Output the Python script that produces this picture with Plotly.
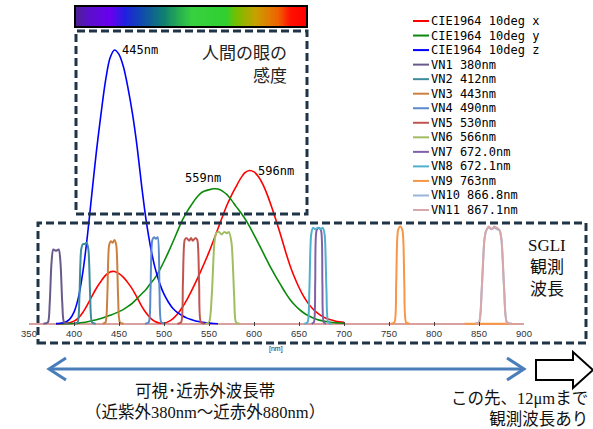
import plotly.graph_objects as go

# ---------------- data ----------------
wl = [380, 385, 390, 395, 400, 405, 410, 415, 420, 425, 430, 435, 440, 445, 450,
      455, 460, 465, 470, 475, 480, 485, 490, 495, 500, 505, 510, 515, 520, 525,
      530, 535, 540, 545, 550, 555, 560, 565, 570, 575, 580, 585, 590, 595, 600,
      605, 610, 615, 620, 625, 630, 635, 640, 645, 650, 655, 660, 665, 670, 675,
      680, 685, 690, 695, 700]
cie_x = [0.0002, 0.0007, 0.0024, 0.0072, 0.0191, 0.0434, 0.0847, 0.1406, 0.2045, 0.2647,
         0.3147, 0.3577, 0.3837, 0.3867, 0.3707, 0.3430, 0.3023, 0.2541, 0.1956, 0.1323,
         0.0805, 0.0411, 0.0162, 0.0051, 0.0038, 0.0154, 0.0375, 0.0714, 0.1177, 0.1730,
         0.2365, 0.3042, 0.3768, 0.4516, 0.5298, 0.6161, 0.7052, 0.7938, 0.8787, 0.9512,
         1.0142, 1.0743, 1.1185, 1.1343, 1.1240, 1.0891, 1.0305, 0.9507, 0.8563, 0.7549,
         0.6475, 0.5351, 0.4316, 0.3437, 0.2683, 0.2043, 0.1526, 0.1122, 0.0813, 0.0579,
         0.0409, 0.0286, 0.0199, 0.0138, 0.0096]
cie_y = [0.0000, 0.0001, 0.0003, 0.0008, 0.0020, 0.0045, 0.0088, 0.0145, 0.0214, 0.0295,
         0.0387, 0.0496, 0.0621, 0.0747, 0.0895, 0.1063, 0.1282, 0.1528, 0.1852, 0.2199,
         0.2536, 0.2977, 0.3391, 0.3954, 0.4608, 0.5314, 0.6067, 0.6857, 0.7618, 0.8233,
         0.8752, 0.9238, 0.9620, 0.9822, 0.9918, 0.9991, 0.9973, 0.9824, 0.9556, 0.9152,
         0.8689, 0.8256, 0.7774, 0.7204, 0.6583, 0.5939, 0.5280, 0.4618, 0.3981, 0.3396,
         0.2835, 0.2283, 0.1798, 0.1402, 0.1076, 0.0812, 0.0603, 0.0441, 0.0318, 0.0226,
         0.0159, 0.0111, 0.0077, 0.0054, 0.0037]
cie_z = [0.0007, 0.0029, 0.0105, 0.0323, 0.0860, 0.1971, 0.3894, 0.6568, 0.9725, 1.2825,
         1.5535, 1.7985, 1.9673, 2.0273, 1.9948, 1.9007, 1.7454, 1.5549, 1.3176, 1.0302,
         0.7721, 0.5701, 0.4153, 0.3024, 0.2185, 0.1592, 0.1120, 0.0822, 0.0607, 0.0431,
         0.0305, 0.0206, 0.0137, 0.0079, 0.0040, 0.0011, 0.0000]
cie_names = ["CIE1964 10deg x", "CIE1964 10deg y", "CIE1964 10deg z"]

vn_names = ["VN1 380nm", "VN2 412nm", "VN3 443nm", "VN4 490nm", "VN5 530nm", "VN6 566nm",
            "VN7 672.0nm", "VN8 672.1nm", "VN9 763nm", "VN10 866.8nm", "VN11 867.1nm"]
vn1_wl = [366, 371, 373, 375, 377, 380, 383, 385, 387, 389, 394]
vn1_r = [0, 0.01, 0.15, 0.45, 0.55, 0.54, 0.55, 0.45, 0.15, 0.01, 0]
vn2_wl = [400, 404, 406, 408, 410, 412, 414, 416, 418, 420, 424]
vn2_r = [0, 0.01, 0.2, 0.55, 0.59, 0.59, 0.60, 0.55, 0.2, 0.01, 0]
vn3_wl = [432, 435, 437, 439, 441, 443, 445, 447, 449, 451, 455]
vn3_r = [0, 0.01, 0.2, 0.58, 0.61, 0.60, 0.62, 0.58, 0.2, 0.01, 0]
vn4_wl = [479, 483, 485, 487, 489, 491, 493, 495, 497, 501]
vn4_r = [0, 0.01, 0.25, 0.62, 0.64, 0.63, 0.64, 0.25, 0.01, 0]
vn5_wl = [515, 519, 521, 523, 525, 528, 530, 532, 535, 537, 539, 541, 545]
vn5_r = [0, 0.01, 0.3, 0.62, 0.635, 0.615, 0.635, 0.615, 0.635, 0.62, 0.3, 0.01, 0]
vn6_wl = [546, 550, 553, 556, 558, 561, 564, 567, 570, 572, 575, 578, 580, 584]
vn6_r = [0, 0.01, 0.2, 0.6, 0.67, 0.68, 0.66, 0.68, 0.67, 0.68, 0.6, 0.2, 0.01, 0]
vn7_wl = [664, 666.5, 668, 669.5, 672, 674.5, 676, 677.5, 680]
vn7_r = [0, 0.01, 0.3, 0.69, 0.71, 0.69, 0.3, 0.01, 0]
vn8_wl = [656, 659.5, 661.5, 663.5, 665.5, 668, 671, 674, 676.5, 678.5, 680.5, 682.5, 686]
vn8_r = [0, 0.01, 0.25, 0.66, 0.71, 0.70, 0.71, 0.70, 0.71, 0.66, 0.25, 0.01, 0]
vn9_wl = [752, 756, 758, 760, 762.5, 765, 767, 769, 773, None, 834, 887]
vn9_r = [0, 0.01, 0.3, 0.69, 0.72, 0.69, 0.3, 0.01, 0, None, 0, 0]
vn10_wl = [846, 850, 853, 856, 858, 861, 864, 867, 870, 873, 875, 878, 881, 886]
vn10_r = [0, 0.01, 0.25, 0.62, 0.69, 0.71, 0.70, 0.71, 0.70, 0.69, 0.62, 0.25, 0.01, 0]
vn11_wl = [846, 850, 853, 856, 858, 861, 864, 867, 870, 873, 875, 878, 881, 886]
vn11_r = [0, 0.01, 0.25, 0.62, 0.69, 0.72, 0.70, 0.72, 0.71, 0.69, 0.62, 0.25, 0.01, 0]
vn_wl = [vn1_wl, vn2_wl, vn3_wl, vn4_wl, vn5_wl, vn6_wl, vn7_wl, vn8_wl, vn9_wl, vn10_wl, vn11_wl]
vn_r = [vn1_r, vn2_r, vn3_r, vn4_r, vn5_r, vn6_r, vn7_r, vn8_r, vn9_r, vn10_r, vn11_r]

peak_labels = ["445nm", "559nm", "596nm"]
tick_vals = [350, 400, 450, 500, 550, 600, 650, 700, 750, 800, 850, 900]

# ---------------- styles ----------------
cie_colors = ["#FF0000", "#0A8A0A", "#0000FF"]
vn_colors = ["#6A5A8C", "#3C8C9E", "#CC8040", "#5A8ACA", "#C05550", "#A0BE60",
             "#8060A8", "#50B0CC", "#F79646", "#9AB5DA", "#D8A8A8"]
spectrum_scale = [[0.0, "#4E2096"], [0.05, "#5A10C8"], [0.15, "#6800F0"], [0.21, "#2020E0"],
                  [0.28, "#1048B0"], [0.38, "#108070"], [0.45, "#28B050"], [0.5, "#38D040"],
                  [0.65, "#30D030"], [0.69, "#70C000"], [0.78, "#C8A000"], [0.88, "#F06000"],
                  [0.93, "#FF1000"], [1.0, "#FF0000"]]

W, H = 593, 429
ML, MR, MT, MB = 29, 69, 6, 103


def X(px):
    return (px - ML) / (W - ML - MR)


def Y(py):
    return (H - MB - py) / (H - MT - MB)


fig = go.Figure()

for xs, ys, c, n in [(wl, cie_x, cie_colors[0], cie_names[0]),
                     (wl, cie_y, cie_colors[1], cie_names[1]),
                     (wl[:len(cie_z)], cie_z, cie_colors[2], cie_names[2])]:
    fig.add_trace(go.Scatter(x=xs, y=ys, mode="lines", name=n, showlegend=False,
                             line=dict(color=c, width=1.6, shape="spline", smoothing=0.8)))

for xs, ys, c, n in zip(vn_wl, vn_r, vn_colors, vn_names):
    fig.add_trace(go.Scatter(x=xs, y=ys, mode="lines", name=n, showlegend=False,
                             connectgaps=False,
                             line=dict(color=c, width=2, shape="spline", smoothing=0.7)))

# spectrum color bar
fig.add_trace(go.Heatmap(z=[list(range(101))], xaxis="x2", yaxis="y2", colorscale=spectrum_scale,
                         showscale=False, zsmooth="best", hoverinfo="skip"))

fig.update_layout(
    width=W, height=H, margin=dict(l=ML, r=MR, t=MT, b=MB),
    paper_bgcolor="white", plot_bgcolor="white", showlegend=False,
    xaxis=dict(range=[350, 900], tickvals=tick_vals, ticks="inside", ticklen=4,
               tickcolor="#404040", showgrid=False, showline=False, zeroline=False,
               tickfont=dict(family="Liberation Sans", size=9.5, color="#333333")),
    yaxis=dict(range=[-0.017, 2.353], showticklabels=False, showgrid=False, showline=False,
               zeroline=True, zerolinecolor="#D9A0A0", zerolinewidth=2),
    xaxis2=dict(domain=[X(75), X(307)], anchor="y2", visible=False),
    yaxis2=dict(domain=[Y(27), Y(6)], anchor="x2", visible=False),
)

navy = "#203448"
shapes = [
    dict(type="rect", xref="paper", yref="paper", x0=X(75), x1=X(307), y0=Y(27), y1=Y(6),
         line=dict(color="black", width=2)),
    dict(type="rect", xref="paper", yref="paper", x0=X(76), x1=X(307), y0=Y(214), y1=Y(31),
         line=dict(color=navy, width=3, dash="8px,4px")),
    dict(type="rect", xref="paper", yref="paper", x0=X(38), x1=X(586), y0=Y(343), y1=Y(223),
         line=dict(color=navy, width=3, dash="8px,4px")),
]
# blue double arrow
blue = "#4A7EBB"
ay = 369
shapes.append(dict(type="line", xref="paper", yref="paper", x0=X(50), x1=X(523), y0=Y(ay), y1=Y(ay),
                   line=dict(color=blue, width=3)))
for tip, back in [(49, 66), (524, 507)]:
    shapes.append(dict(type="path", xref="paper", yref="paper",
                       path=f"M {X(back)} {Y(ay - 11)} L {X(tip)} {Y(ay)} L {X(back)} {Y(ay + 11)}",
                       line=dict(color=blue, width=3)))
# block arrow
pts = [(536, 360), (573, 360), (573, 352), (593, 370), (573, 388), (573, 380), (536, 380)]
path = "M " + " L ".join(f"{X(a)} {Y(b)}" for a, b in pts) + " Z"
shapes.append(dict(type="path", xref="paper", yref="paper", path=path,
                   fillcolor="white", line=dict(color="black", width=2)))

# legend (manual)
mono = "DejaVu Sans Mono"
names_all = cie_names + vn_names
colors_all = cie_colors + vn_colors
annotations = []
for i, (n, c) in enumerate(zip(names_all, colors_all)):
    yc = 21 + 14.54 * i
    shapes.append(dict(type="line", xref="paper", yref="paper", x0=X(413), x1=X(429),
                       y0=Y(yc), y1=Y(yc), line=dict(color=c, width=2)))
    annotations.append(dict(xref="paper", yref="paper", x=X(429), y=Y(yc), text=n,
                            showarrow=False, xanchor="left", yanchor="middle",
                            font=dict(family=mono, size=12, color="black")))

# peak labels
for txt, px, py, anc in [(peak_labels[0], 120, 50, "left"), (peak_labels[1], 223, 178, "right"),
                         (peak_labels[2], 256, 171, "left")]:
    annotations.append(dict(xref="paper", yref="paper", x=X(px), y=Y(py), text=txt, showarrow=False,
                            xanchor=anc, yanchor="middle", font=dict(family=mono, size=12, color="black")))

jp = "Noto Sans CJK JP"
serif_jp = "Liberation Serif, Noto Sans CJK JP"
annotations += [
    dict(xref="paper", yref="paper", x=X(289), y=Y(51), text="人間の眼の", showarrow=False,
         xanchor="right", yanchor="middle", font=dict(family=jp, size=17, color="#222222")),
    dict(xref="paper", yref="paper", x=X(289), y=Y(74), text="感度", showarrow=False,
         xanchor="right", yanchor="middle", font=dict(family=jp, size=17, color="#222222")),
    dict(xref="paper", yref="paper", x=X(547), y=Y(267), text="SGLI<br>観測<br>波長", showarrow=False,
         xanchor="center", yanchor="middle", align="center", font=dict(family=serif_jp, size=17, color="#111111")),
    dict(xref="paper", yref="paper", x=X(276), y=Y(349), text="[nm]", showarrow=False,
         xanchor="center", yanchor="middle", font=dict(family="Liberation Sans", size=7, color="#222222")),
    dict(xref="paper", yref="paper", x=X(205), y=Y(402), text="可視･近赤外波長帯<br>（近紫外380nm〜近赤外880nm）",
         showarrow=False, xanchor="center", yanchor="middle", align="center",
         font=dict(family=serif_jp, size=16.5, color="#111111")),
    dict(xref="paper", yref="paper", x=X(590), y=Y(409), text="この先、12μmまで<br>観測波長あり",
         showarrow=False, xanchor="right", yanchor="middle", align="right",
         font=dict(family=serif_jp, size=16.5, color="#111111")),
]

fig.update_layout(shapes=shapes, annotations=annotations)
fig.write_html("out.html", config={"displayModeBar": False},
               post_script="document.body.style.margin='0';document.body.style.padding='0';")
